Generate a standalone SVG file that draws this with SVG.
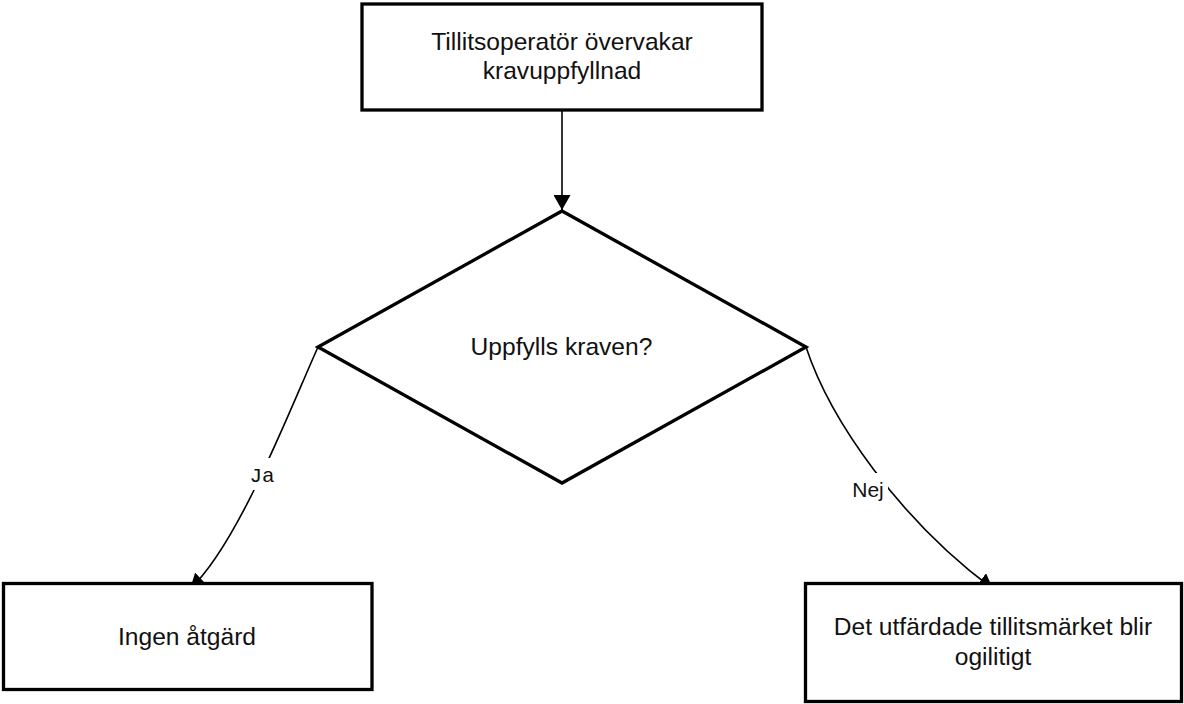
<svg xmlns="http://www.w3.org/2000/svg" width="1184" height="704" viewBox="0 0 1184 704">
<style>
.node{fill:#ffffff;stroke:#000000;stroke-width:3.3}
.edge{fill:none;stroke:#000000;stroke-width:1.6}
.t{font-family:"Liberation Sans",Arial,sans-serif;font-size:24.6px;fill:#111111;text-anchor:middle}
.lbl{font-family:"Liberation Sans",Arial,sans-serif;font-size:21px;fill:#111111;text-anchor:middle}
.lblm{font-family:"Liberation Mono","Courier New",monospace;font-size:21px;fill:#111111;text-anchor:middle}
.lbg{fill:#ffffff;stroke:none}
</style>
<defs>
<marker id="arrow" viewBox="0 0 15 17" refX="15" refY="8.5" markerWidth="15" markerHeight="17" markerUnits="userSpaceOnUse" orient="auto">
<path d="M0,0 L15,8.5 L0,17 z" fill="#000000"/>
</marker>
</defs>
<rect width="1184" height="704" fill="#ffffff"/>
<g id="connectors">
<path class="edge" d="M562,110 L562,210" marker-end="url(#arrow)"/>
<path class="edge" d="M318,347 C288,414 238,544 190,589" marker-end="url(#arrow)"/>
<path class="edge" d="M806,347 C830,420 900,520 993,589" marker-end="url(#arrow)"/>
<g id="label-ja">
<rect class="lbg" x="249" y="458" width="26" height="32"/>
<text class="lblm" x="262" y="482">Ja</text>
</g>
<g id="label-nej">
<rect class="lbg" x="850" y="473" width="38" height="32"/>
<text class="lbl" x="868" y="497">Nej</text>
</g>
</g>
<g id="node-monitor">
<rect class="node" x="362" y="4" width="400" height="106"/>
<text class="t" x="562" y="49.5">Tillitsoperatör övervakar</text>
<text class="t" x="562" y="78.5">kravuppfyllnad</text>
</g>
<g id="node-decision">
<polygon class="node" points="562,211 806,347 562,483 318,347"/>
<text class="t" x="561.5" y="354.5">Uppfylls kraven?</text>
</g>
<g id="node-ingen">
<rect class="node" x="3.5" y="583.5" width="368.5" height="106"/>
<text class="t" x="187" y="644.5">Ingen åtgärd</text>
</g>
<g id="node-ogiltigt">
<rect class="node" x="805.5" y="583.5" width="376" height="118"/>
<text class="t" x="993" y="635">Det utfärdade tillitsmärket blir</text>
<text class="t" x="993" y="664.5">ogilitigt</text>
</g>
</svg>
